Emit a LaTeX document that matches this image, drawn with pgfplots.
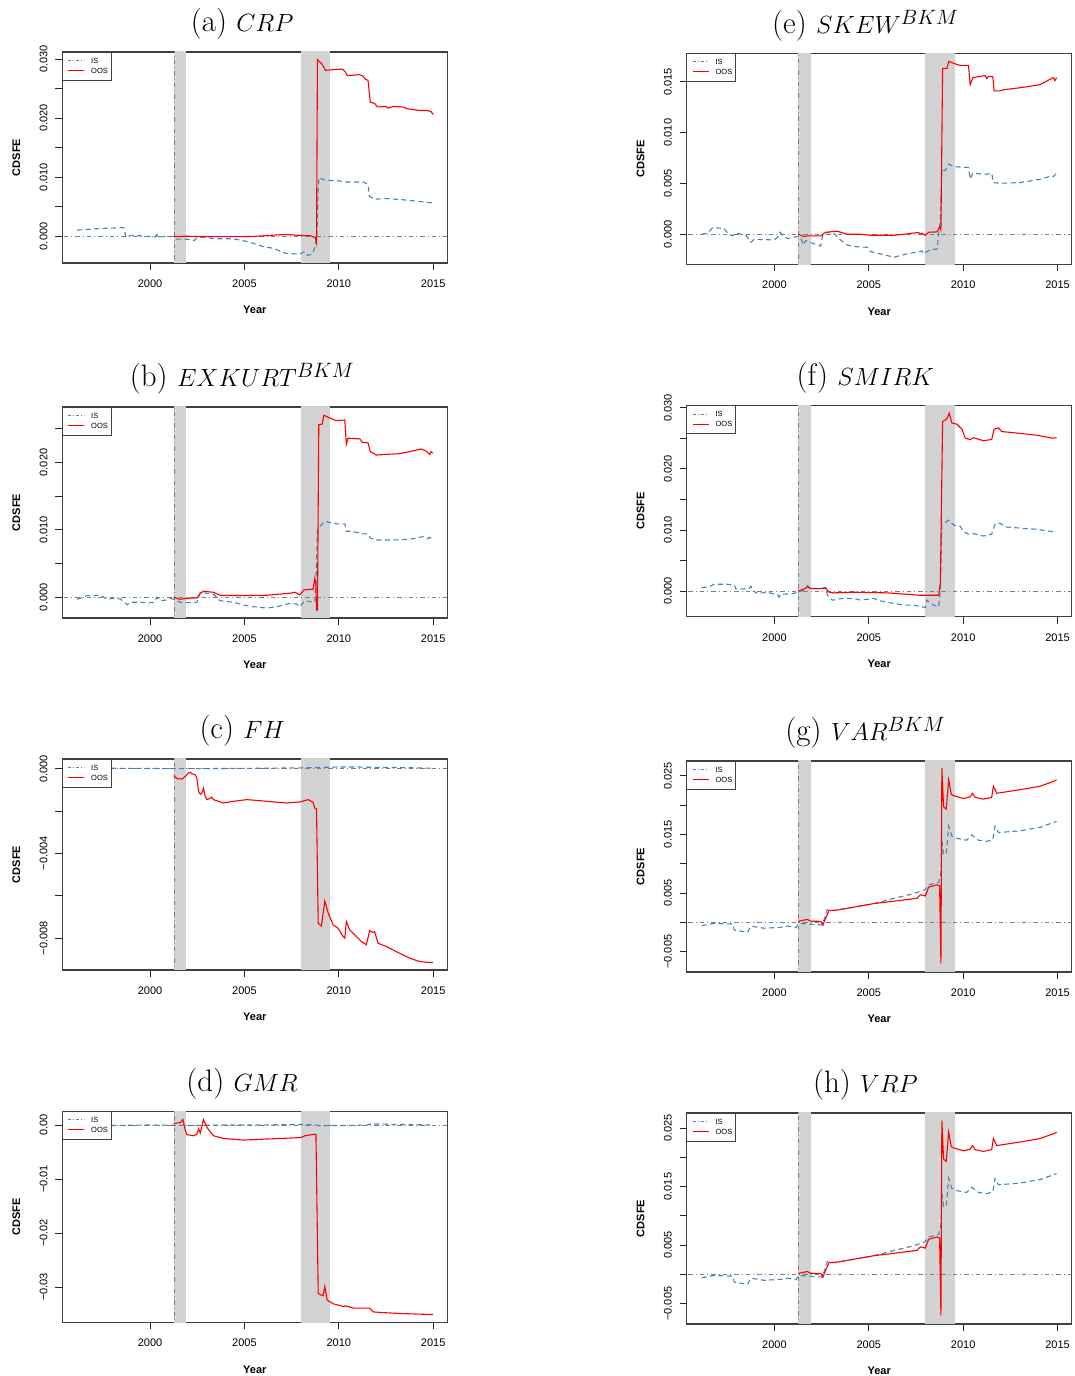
\documentclass[border=0pt]{standalone}
\usepackage{pgfplots}
\pgfplotsset{compat=1.18}
\usepackage{fontspec}
\newfontfamily\hv{Liberation Sans}
\definecolor{isblue}{RGB}{70,130,180}
\definecolor{oosred}{RGB}{255,0,0}
\definecolor{rec}{RGB}{211,211,211}
\definecolor{zline}{RGB}{125,125,125}
\newcommand{\tickfont}{\hv\fontsize{11}{13}\selectfont}

\pgfplotsset{
  cdsfe/.style={
    scale only axis, width=385pt, height=211pt,
    xmin=1995.35, xmax=2015.75,
    xtick={2000,2005,2010,2015},
    xticklabels={2000,2005,2010,2015},
    scaled y ticks=false,
    tick align=outside, xtick pos=bottom, ytick pos=left,
    major tick length=7pt,
    axis line style={black!75, line width=1.2pt},
    every tick/.style={black!85, line width=0.8pt},
    ticklabel style={font=\tickfont},
    xticklabel style={anchor=base},
    xticklabel shift=17.5pt,
    yticklabel style={rotate=90, anchor=base},
    yticklabel shift=8pt,
    xlabel={Year}, ylabel={CDSFE},
    label style={font=\hv\bfseries\fontsize{11}{13}\selectfont},
    xlabel style={at={([yshift=-47pt]axis description cs:0.5,0)}, anchor=center},
    ylabel style={at={([xshift=-46pt]axis description cs:0,0.5)}, anchor=center},
    title style={at={(0.467,1)}, anchor=base, yshift=14pt, font=\fontsize{31}{36}\selectfont},
    no markers,
  },
  isline/.style={isblue, line width=1.1pt, dash pattern=on 5pt off 3.5pt},
  oosline/.style={oosred, line width=1.1pt},
}
\newcommand{\decor}{%
  \addplot[fill=rec, draw=none] coordinates {(2001.25,-0.1) (2001.92,-0.1) (2001.92,0.1) (2001.25,0.1)};
  \addplot[fill=rec, draw=none] coordinates {(2008.0,-0.1) (2009.55,-0.1) (2009.55,0.1) (2008.0,0.1)};
  \addplot[zline, line width=0.8pt, dash pattern=on 1pt off 3pt on 4.5pt off 3pt] coordinates {(2001.27,-0.1) (2001.27,0.1)};
  \addplot[zline, line width=0.8pt, dash pattern=on 1pt off 3pt on 4.5pt off 3pt] coordinates {(1994,0) (2017,0)};
}
% legend box drawn after each axis, at its north west corner
\newcommand{\leg}[1]{%
  \draw[black!75, line width=0.9pt, fill=white] (#1.north west) rectangle ([xshift=49pt,yshift=-28pt]#1.north west);
  \draw[isblue, line width=1pt, dash pattern=on 3pt off 2pt on 1pt off 2pt] ([xshift=6pt,yshift=-8.5pt]#1.north west) -- ([xshift=22pt,yshift=-8.5pt]#1.north west);
  \draw[oosred, line width=1.3pt] ([xshift=6pt,yshift=-18.5pt]#1.north west) -- ([xshift=22pt,yshift=-18.5pt]#1.north west);
  \node[anchor=west, inner sep=0pt, font=\hv\fontsize{7.5}{8}\selectfont] at ([xshift=28.7pt,yshift=-8.5pt]#1.north west) {IS};
  \node[anchor=west, inner sep=0pt, font=\hv\fontsize{7.5}{8}\selectfont] at ([xshift=28.7pt,yshift=-18.5pt]#1.north west) {OOS};
}

\begin{document}
\begin{tikzpicture}
\useasboundingbox (0,0) rectangle (1075pt,1376pt);

% (a) CRP
\begin{axis}[cdsfe, name=pa, at={(62.3pt,1113pt)}, anchor=south west,
  title={(a) $CRP$}, ymin=-0.0045, ymax=0.0312,
  ytick={0,0.005,0.01,0.015,0.02,0.025,0.03},
  yticklabels={0.000,,0.010,,0.020,,0.030}]
\decor
\addplot[isline] coordinates {
(1996.14,0.00107) (1996.7,0.00118) (1997.4,0.00135) (1998.0,0.0014) (1998.52,0.00152) (1998.62,0.0014)
(1998.72,-0.00017) (1999.0,0.00017) (1999.5,0.0001) (2000.0,-0.00006) (2000.25,-0.0001) (2000.37,0.00034)
(2000.5,-0.00006) (2001.25,0) (2001.4,-0.00045) (2002.0,-0.0005) (2002.35,-0.00068) (2002.5,-0.00017)
(2003.0,-0.00017) (2003.4,-0.0004) (2004.4,-0.0004) (2004.95,-0.00073) (2005.5,-0.0012) (2006.0,-0.00174)
(2006.5,-0.002) (2007.2,-0.00287) (2007.9,-0.003) (2008.2,-0.0026) (2008.35,-0.0032) (2008.6,-0.003)
(2008.75,-0.0017) (2008.85,0.0005) (2008.9,0.0073) (2008.95,0.00996) (2009.1,0.0097) (2009.3,0.0095)
(2010.0,0.0094) (2010.3,0.0092) (2011.3,0.0092) (2011.55,0.0088) (2011.62,0.0068) (2011.9,0.0063)
(2012.5,0.0064) (2013.4,0.0062) (2014.3,0.0059) (2014.89,0.0057) (2015.0,0.0053)};
\addplot[oosline] coordinates {
(2001.25,0) (2002.0,0.00002) (2003.0,-0.00003) (2004.5,-0.00005) (2005.5,0.0) (2006.5,0.0002)
(2007.2,0.00034) (2007.9,0.00017) (2008.5,0.0001) (2008.75,-0.0002) (2008.82,-0.0011) (2008.87,0.0299)
(2008.94,0.0297) (2009.1,0.0292) (2009.3,0.0281) (2009.7,0.0282) (2010.2,0.0283) (2010.35,0.0278)
(2010.45,0.0272) (2010.9,0.0273) (2011.05,0.0274) (2011.3,0.0271) (2011.4,0.0266) (2011.55,0.0264)
(2011.67,0.0227) (2011.9,0.0225) (2012.05,0.0219) (2012.5,0.0220) (2012.6,0.0217) (2012.9,0.0220)
(2013.4,0.0219) (2013.6,0.0216) (2014.3,0.0213) (2014.7,0.0213) (2014.9,0.0211) (2015.0,0.0206)};
\end{axis}
\leg{pa}

% (b) EXKURT
\begin{axis}[cdsfe, name=pb, at={(62.3pt,758pt)}, anchor=south west,
  title={(b) $EXKURT^{BKM}$}, ymin=-0.00307, ymax=0.02823,
  ytick={0,0.005,0.01,0.015,0.02,0.025},
  yticklabels={0.000,,0.010,,0.020,}]
\decor
\addplot[isline] coordinates {
(1996.14,-0.0003) (1996.67,0.00025) (1997.38,0.0003) (1997.73,-0.0003) (1998.08,-0.00015) (1998.43,-0.00025)
(1998.79,-0.0011) (1998.96,-0.00074) (1999.49,-0.00074) (2000.19,-0.0008) (2000.37,0) (2000.55,-0.0005)
(2000.90,-0.0004) (2001.07,-0.00015) (2001.25,-0.0003) (2001.60,-0.00074) (2001.95,-0.0008) (2002.48,-0.00074)
(2002.66,0.00074) (2003.36,0.00045) (2003.71,-0.0005) (2004.42,-0.00074) (2004.95,-0.00114) (2005.48,-0.0014)
(2006.18,-0.0016) (2006.71,-0.0014) (2007.41,-0.0009) (2007.76,-0.001) (2007.94,-0.0014) (2008.20,-0.0005)
(2008.56,-0.0007) (2008.73,-0.00074) (2008.79,0.0021) (2008.87,0.0100) (2009.0,0.0105) (2009.26,0.0113)
(2009.52,0.0111) (2009.88,0.0109) (2010.32,0.0109) (2010.40,0.0098) (2010.58,0.0098) (2011.02,0.0096)
(2011.29,0.0094) (2011.55,0.0094) (2011.67,0.0088) (2011.99,0.0085) (2012.87,0.0085) (2013.75,0.0086)
(2014.45,0.009) (2014.72,0.0087) (2014.81,0.0089) (2014.98,0.0086)};
\addplot[oosline] coordinates {
(2001.25,0) (2001.60,-0.0003) (2001.95,-0.00015) (2002.48,-0.0001) (2002.66,0.00054) (2002.83,0.0009)
(2003.36,0.00074) (2003.71,0.0003) (2004.95,0.00025) (2006.18,0.0003) (2007.41,0.0006) (2007.68,0.00074)
(2007.94,0.00035) (2008.15,0.0011) (2008.64,0.0012) (2008.73,0.0028) (2008.79,0.0018) (2008.82,-0.0019)
(2008.87,-0.0019) (2008.94,0.0256) (2009.12,0.0257) (2009.21,0.0270) (2009.52,0.0266) (2009.88,0.0262)
(2010.32,0.0263) (2010.40,0.0227) (2010.49,0.0236) (2011.11,0.0235) (2011.25,0.0230) (2011.55,0.0229)
(2011.67,0.0216) (2011.99,0.0211) (2012.52,0.0212) (2013.22,0.0213) (2013.75,0.0216) (2014.37,0.0220)
(2014.63,0.0217) (2014.81,0.0212) (2014.89,0.0216) (2014.98,0.0214)};
\end{axis}
\leg{pb}

% (c) FH
\begin{axis}[cdsfe, name=pc, at={(62.3pt,406pt)}, anchor=south west,
  title={(c) $FH$}, ymin=-0.0095, ymax=0.000458,
  ytick={-0.008,-0.006,-0.004,-0.002,0},
  yticklabels={−0.008,,−0.004,,0.000}]
\decor
\addplot[isline] coordinates {
(1996.14,0.00002) (1998,0.00002) (2000,0.00001) (2002,0.0) (2004,0.00001) (2006,0.00002) (2008,0.00004)
(2009,0.00006) (2010,0.00008) (2011,0.00008) (2012,0.00006) (2013,0.00006) (2014,0.00004) (2015,0.00002)};
\addplot[oosline] coordinates {
(2001.25,-0.00033) (2001.43,-0.00047) (2001.69,-0.00049) (2001.87,-0.00036) (2002.04,-0.0002) (2002.13,-0.00017)
(2002.22,-0.00024) (2002.39,-0.00028) (2002.48,-0.00044) (2002.57,-0.00107) (2002.66,-0.0012) (2002.75,-0.00115)
(2002.83,-0.00091) (2002.92,-0.0013) (2003.01,-0.00146) (2003.19,-0.00139) (2003.27,-0.00134) (2003.36,-0.00146)
(2003.89,-0.00162) (2004.42,-0.00154) (2005.12,-0.00146) (2005.83,-0.00151) (2007.24,-0.00162) (2007.94,-0.00157)
(2008.38,-0.00146) (2008.64,-0.00159) (2008.73,-0.00186) (2008.82,-0.0019) (2008.91,-0.00729) (2009.0,-0.00737)
(2009.08,-0.00742) (2009.26,-0.00624) (2009.44,-0.00682) (2009.70,-0.00737) (2009.96,-0.00753) (2010.23,-0.00792)
(2010.32,-0.008) (2010.40,-0.00721) (2010.58,-0.00761) (2010.93,-0.00792) (2011.20,-0.00816) (2011.46,-0.00831)
(2011.64,-0.00764) (2011.78,-0.00773) (2011.90,-0.00769) (2012.08,-0.00824) (2012.52,-0.00839) (2013.22,-0.00871)
(2013.75,-0.00894) (2014.28,-0.0091) (2014.81,-0.00915) (2014.98,-0.00915)};
\end{axis}
\leg{pc}

% (d) GMR
\begin{axis}[cdsfe, name=pd, at={(62.3pt,53.7pt)}, anchor=south west,
  title={(d) $GMR$}, ymin=-0.03653, ymax=0.00253,
  ytick={-0.03,-0.02,-0.01,0},
  yticklabels={−0.03,−0.02,−0.01,0.00}]
\decor
\addplot[isline] coordinates {
(1996.14,0.0) (1998,-0.0001) (2000,0.0) (2002,-0.0001) (2004,0.0) (2006,0.0) (2008,0.0001) (2008.8,0.0)
(2009,-0.0002) (2009.5,-0.0001) (2010.5,-0.0001) (2011.5,0.0) (2011.7,0.0002) (2013,0.0001) (2015,0.0)};
\addplot[oosline] coordinates {
(2001.25,0.0003) (2001.60,0.00043) (2001.74,0.001) (2001.87,-0.001) (2001.95,-0.0018) (2002.31,-0.002)
(2002.48,-0.0017) (2002.57,-0.0007) (2002.66,-0.0015) (2002.83,0.001) (2003.01,-0.0004) (2003.19,-0.0013)
(2003.36,-0.002) (2003.89,-0.0025) (2004.95,-0.0028) (2006.18,-0.0026) (2007.59,-0.0024) (2008.03,-0.0023)
(2008.20,-0.002) (2008.73,-0.0017) (2008.79,-0.0018) (2008.91,-0.0312) (2009.08,-0.0315) (2009.17,-0.0316)
(2009.26,-0.0299) (2009.38,-0.0324) (2009.70,-0.0331) (2010.23,-0.0336) (2010.40,-0.0335) (2010.76,-0.0339)
(2011.64,-0.0339) (2011.81,-0.0346) (2012.17,-0.0347) (2013.22,-0.0349) (2014.98,-0.0351)};
\end{axis}
\leg{pd}

% (e) SKEW
\begin{axis}[cdsfe, name=pe, at={(686.7pt,1111.7pt)}, anchor=south west,
  title={(e) $SKEW^{BKM}$}, title style={at={(0.464,1)}}, ymin=-0.00295, ymax=0.01779,
  ytick={0,0.005,0.01,0.015},
  yticklabels={0.000,0.005,0.010,0.015}]
\decor
\addplot[isline] coordinates {
(1996.14,0) (1996.46,0.0001) (1996.73,0.00066) (1997.34,0.00056) (1997.52,0.0001) (1997.78,-0.00016)
(1997.96,0.00013) (1998.49,-0.0001) (1998.75,-0.00079) (1998.93,-0.00049) (1999.98,-0.00056) (2000.16,-0.0003)
(2000.30,0.0002) (2000.42,-0.00007) (2000.69,-0.00043) (2000.95,-0.0003) (2001.21,-0.00023) (2001.39,-0.0003)
(2001.53,-0.00105) (2001.65,-0.00062) (2002.01,-0.00088) (2002.45,-0.00115) (2002.57,0.00003) (2002.71,0.00016)
(2003.15,0.0001) (2003.50,-0.00056) (2003.86,-0.00105) (2004.21,-0.00121) (2004.91,-0.00128) (2005.09,-0.0017)
(2005.62,-0.00193) (2006.32,-0.00226) (2007.02,-0.00193) (2007.55,-0.00174) (2007.82,-0.00164) (2007.90,-0.00193)
(2008.08,-0.0017) (2008.35,-0.00147) (2008.61,-0.00147) (2008.79,0.00141) (2008.87,0.00632) (2009.05,0.00626)
(2009.23,0.00691) (2009.49,0.00665) (2010.28,0.00655) (2010.37,0.00544) (2010.51,0.006) (2011.25,0.0059)
(2011.51,0.006) (2011.60,0.00508) (2011.95,0.00501) (2013.01,0.00508) (2014.07,0.0054) (2014.68,0.00573)
(2014.77,0.00567) (2014.95,0.006)};
\addplot[oosline] coordinates {
(2001.25,0) (2001.57,-0.00023) (2001.74,-0.00016) (2002.45,-0.00016) (2002.71,0.0002) (2003.33,0.0003)
(2003.86,0.0) (2004.56,0.0) (2005.09,-0.0001) (2006.32,-0.0001) (2007.02,0.00003) (2007.38,0.00013)
(2007.64,0.00016) (2007.73,0.0) (2007.82,0.0001) (2007.99,-0.0001) (2008.17,0.0002) (2008.61,0.00023)
(2008.75,0.0007) (2008.82,0.0004) (2008.91,0.0163) (2009.14,0.0163) (2009.23,0.0170) (2009.49,0.0168)
(2009.84,0.0166) (2010.28,0.0166) (2010.37,0.0147) (2010.51,0.0154) (2011.16,0.0156) (2011.25,0.0153)
(2011.34,0.0155) (2011.57,0.0155) (2011.64,0.0141) (2011.95,0.0141) (2012.13,0.0142) (2013.01,0.0144)
(2014.07,0.0147) (2014.77,0.0154) (2014.86,0.0151) (2014.95,0.0154)};
\end{axis}
\leg{pe}

% (f) SMIRK
\begin{axis}[cdsfe, name=pf, at={(686.7pt,759.3pt)}, anchor=south west,
  title={(f) $SMIRK$}, title style={at={(0.464,1)}}, ymin=-0.0042, ymax=0.03033,
  ytick={0,0.005,0.01,0.015,0.02,0.025,0.03},
  yticklabels={0.000,,0.010,,0.020,,0.030}]
\decor
\addplot[isline] coordinates {
(1996.14,0.00055) (1996.55,0.0007) (1996.78,0.0011) (1997.52,0.0011) (1997.87,0.001) (1997.96,0.0003)
(1998.66,0.0004) (1998.75,0.0008) (1998.84,0.00005) (1999.10,-0.0004) (1999.63,-0.0002) (2000.16,-0.00065)
(2000.25,-0.001) (2000.33,-0.00055) (2001.04,-0.0004) (2001.25,-0.0001) (2001.48,0.00005) (2001.74,0.0009)
(2001.92,0.0004) (2002.45,0.0004) (2002.71,0.0006) (2002.80,-0.00065) (2003.06,-0.0015) (2003.50,-0.00125)
(2004.21,-0.0012) (2004.56,-0.0015) (2005.27,-0.0012) (2005.44,-0.0015) (2005.97,-0.00185) (2006.85,-0.0023)
(2007.38,-0.0023) (2007.99,-0.0027) (2008.08,-0.0015) (2008.26,-0.002) (2008.43,-0.0023) (2008.70,-0.0026)
(2008.79,0.00016) (2008.87,0.0108) (2009.23,0.0116) (2009.49,0.0108) (2009.84,0.0106) (2010.02,0.0097)
(2010.28,0.0093) (2010.55,0.0094) (2011.07,0.009) (2011.51,0.0093) (2011.69,0.011) (2011.95,0.0111)
(2012.22,0.0105) (2013.01,0.0103) (2013.89,0.0101) (2014.77,0.0097) (2014.95,0.0097)};
\addplot[oosline] coordinates {
(2001.25,0) (2001.57,0.0003) (2001.74,0.0007) (2001.92,0.0004) (2002.62,0.0004) (2002.71,0.0005)
(2002.89,-0.0002) (2003.15,-0.0003) (2004.21,-0.0002) (2005.97,-0.0003) (2007.73,-0.0007) (2008.70,-0.0007)
(2008.79,0.0013) (2008.91,0.0277) (2009.14,0.0282) (2009.26,0.0291) (2009.40,0.0275) (2009.67,0.0273)
(2009.93,0.0265) (2010.11,0.025) (2010.37,0.0248) (2010.55,0.0251) (2011.07,0.0246) (2011.51,0.0248)
(2011.64,0.0265) (2011.87,0.0267) (2012.04,0.0261) (2013.01,0.0258) (2013.89,0.0255) (2014.77,0.025)
(2014.95,0.0251)};
\end{axis}
\leg{pf}

% (g) VAR
\begin{axis}[cdsfe, name=pg, at={(686.7pt,404pt)}, anchor=south west,
  title={(g) $VAR^{BKM}$}, title style={at={(0.464,1)}}, ymin=-0.00846, ymax=0.0275,
  ytick={-0.005,0,0.005,0.01,0.015,0.02,0.025},
  yticklabels={−0.005,,0.005,,0.015,,0.025}]
\decor
\addplot[isline] coordinates {
(1996.14,-0.00057) (1996.81,-0.00017) (1997.17,-0.00023) (1997.78,-0.00028) (1997.87,-0.0013) (1998.57,-0.0017)
(1998.75,-0.00063) (1998.93,-0.00074) (1999.45,-0.001) (2000.33,-0.00085) (2000.69,-0.00063) (2001.13,-0.0009)
(2001.30,-0.00017) (2001.74,-0.00028) (2002.54,-0.00045) (2002.80,0.0022) (2003.15,0.002) (2004.21,0.0026)
(2005.27,0.0032) (2005.97,0.0038) (2007.38,0.0049) (2007.99,0.0056) (2008.17,0.0064) (2008.70,0.0068)
(2008.82,0.0084) (2008.87,0.0138) (2008.96,0.0116) (2009.10,0.0116) (2009.23,0.0164) (2009.40,0.0147)
(2009.67,0.0143) (2010.19,0.014) (2010.46,0.0149) (2010.81,0.014) (2011.25,0.0138) (2011.57,0.0141)
(2011.69,0.0164) (2011.87,0.0153) (2013.01,0.0156) (2014.07,0.0162) (2014.77,0.017) (2014.95,0.0172)};
\addplot[oosline] coordinates {
(2001.25,0.00017) (2001.74,0.0005) (2001.92,0.0002) (2002.45,0.00017) (2002.57,-0.00045) (2002.71,0.0007)
(2002.89,0.002) (2003.33,0.0021) (2004.21,0.0026) (2005.27,0.0032) (2006.32,0.0036) (2007.55,0.0041)
(2007.73,0.0047) (2007.99,0.0045) (2008.17,0.006) (2008.61,0.0064) (2008.75,0.0062) (2008.82,-0.007)
(2008.87,0.0263) (2008.96,0.0197) (2009.10,0.0193) (2009.23,0.0243) (2009.37,0.0218) (2009.49,0.0216)
(2010.02,0.0211) (2010.37,0.0214) (2010.49,0.022) (2010.63,0.0213) (2011.07,0.021) (2011.51,0.0213)
(2011.60,0.0232) (2011.78,0.022) (2013.01,0.0226) (2014.07,0.0232) (2014.77,0.024) (2014.95,0.0243)};
\end{axis}
\leg{pg}

% (h) VRP
\begin{axis}[cdsfe, name=ph, at={(686.7pt,52pt)}, anchor=south west,
  title={(h) $VRP$}, title style={at={(0.464,1)}}, ymin=-0.00846, ymax=0.02756,
  ytick={-0.005,0,0.005,0.01,0.015,0.02,0.025},
  yticklabels={−0.005,,0.005,,0.015,,0.025}]
\decor
\addplot[isline] coordinates {
(1996.14,-0.00057) (1996.81,-0.00017) (1997.17,-0.00023) (1997.78,-0.00028) (1997.87,-0.0013) (1998.57,-0.0017)
(1998.75,-0.00063) (1998.93,-0.00074) (1999.45,-0.001) (2000.33,-0.00085) (2000.69,-0.00063) (2001.13,-0.0009)
(2001.30,-0.00017) (2001.74,-0.00028) (2002.54,-0.00045) (2002.80,0.0022) (2003.15,0.002) (2004.21,0.0026)
(2005.27,0.0032) (2005.97,0.0038) (2007.38,0.0049) (2007.99,0.0056) (2008.17,0.0064) (2008.70,0.0068)
(2008.82,0.0084) (2008.87,0.0138) (2008.96,0.0116) (2009.10,0.0116) (2009.23,0.0164) (2009.40,0.0147)
(2009.67,0.0143) (2010.19,0.014) (2010.46,0.0149) (2010.81,0.014) (2011.25,0.0138) (2011.57,0.0141)
(2011.69,0.0164) (2011.87,0.0153) (2013.01,0.0156) (2014.07,0.0162) (2014.77,0.017) (2014.95,0.0172)};
\addplot[oosline] coordinates {
(2001.25,0.00017) (2001.74,0.0005) (2001.92,0.0002) (2002.45,0.00017) (2002.57,-0.00045) (2002.71,0.0007)
(2002.89,0.002) (2003.33,0.0021) (2004.21,0.0026) (2005.27,0.0032) (2006.32,0.0036) (2007.55,0.0041)
(2007.73,0.0047) (2007.99,0.0045) (2008.17,0.006) (2008.61,0.0064) (2008.75,0.0062) (2008.82,-0.007)
(2008.87,0.0263) (2008.96,0.0197) (2009.10,0.0193) (2009.23,0.0243) (2009.37,0.0218) (2009.49,0.0216)
(2010.02,0.0211) (2010.37,0.0214) (2010.49,0.022) (2010.63,0.0213) (2011.07,0.021) (2011.51,0.0213)
(2011.60,0.0232) (2011.78,0.022) (2013.01,0.0226) (2014.07,0.0232) (2014.77,0.024) (2014.95,0.0243)};
\end{axis}
\leg{ph}
\end{tikzpicture}
\end{document}
